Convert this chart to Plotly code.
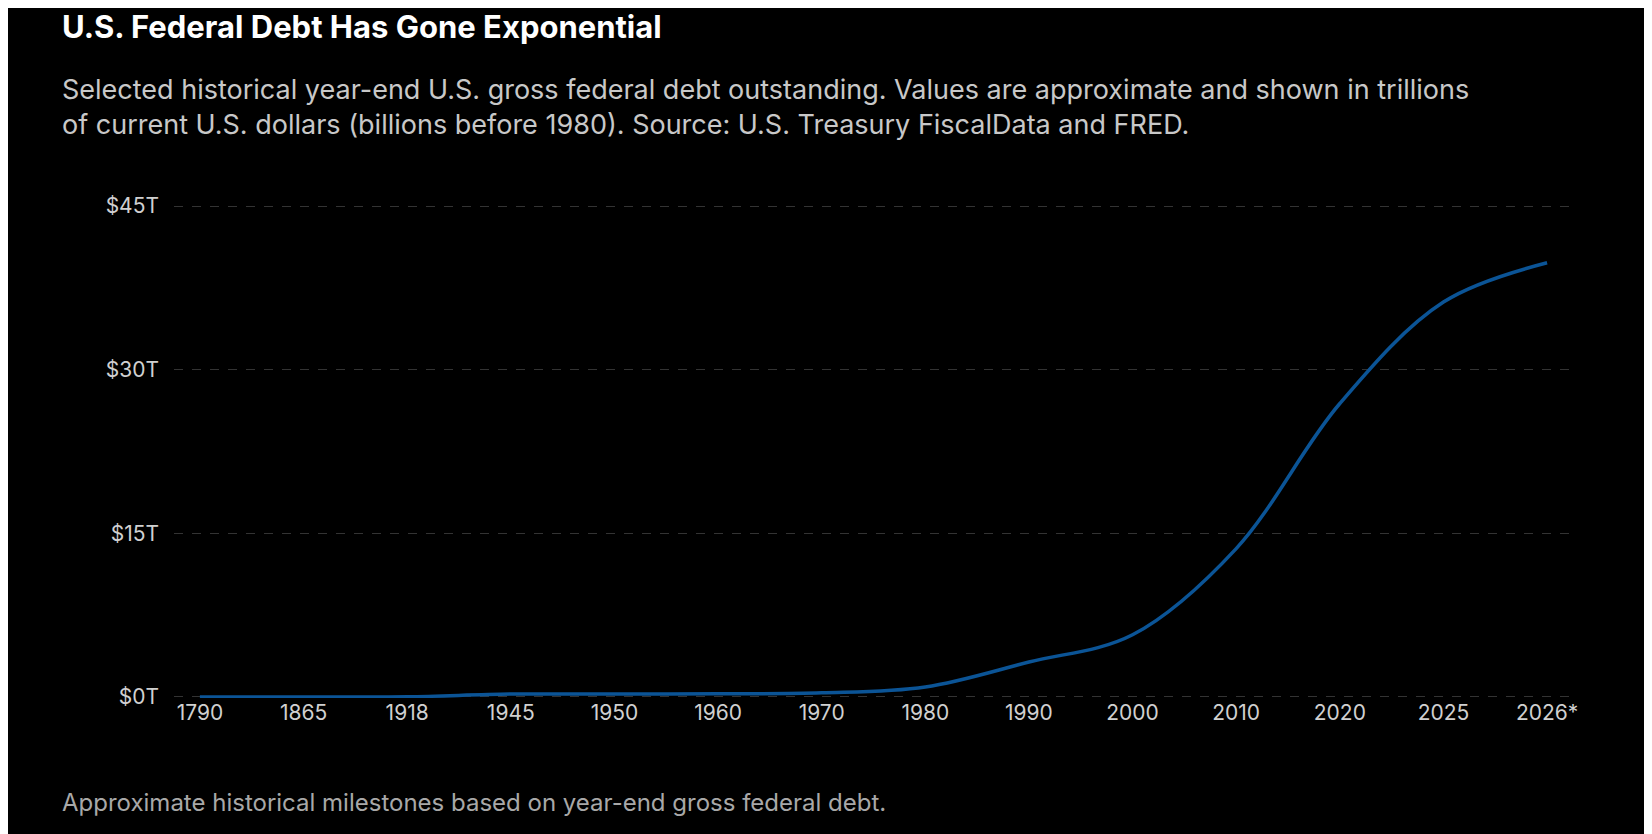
import plotly.graph_objects as go

years = ["1790", "1865", "1918", "1945", "1950", "1960", "1970", "1980",
         "1990", "2000", "2010", "2020", "2025", "2026*"]
debt_trillions = [0.00007, 0.0027, 0.012, 0.26, 0.257, 0.29, 0.37, 0.91,
                  3.2, 5.7, 13.6, 26.9, 36.2, 39.8]
tick_values = [0, 15, 30, 45]
tick_labels = ["$0T", "$15T", "$30T", "$45T"]

fig = go.Figure(go.Scatter(
    x=years, y=debt_trillions, mode="lines",
    line=dict(color="#0b5496", width=3.5, shape="spline", smoothing=1.0),
    hoverinfo="x+y",
))

font = "Inter, 'Open Sans', sans-serif"
fig.update_layout(
    width=1652, height=834,
    paper_bgcolor="#000000", plot_bgcolor="#000000",
    margin=dict(l=166, r=87, t=197, b=144),
    showlegend=False,
    font=dict(family=font, color="#d0d0d0", size=21),
    xaxis=dict(type="category", range=[-0.25, 13.25], showgrid=False,
               zeroline=False, showline=False, ticks="",
               tickfont=dict(size=21, color="#d0d0d0")),
    yaxis=dict(range=[-0.1, 45.1], tickvals=tick_values, ticktext=tick_labels,
               showgrid=True, gridcolor="#333333", griddash="dash",
               gridwidth=1, zeroline=False, showline=False,
               ticklabelstandoff=14,
               tickfont=dict(size=21, color="#d0d0d0")),
    annotations=[
        dict(text="<b>U.S. Federal Debt Has Gone Exponential</b>",
             xref="paper", yref="paper", x=-0.0818, y=1.362,
             xanchor="left", yanchor="middle", showarrow=False,
             font=dict(size=31, color="#ffffff", family=font)),
        dict(text="Selected historical year-end U.S. gross federal debt outstanding. "
                  "Values are approximate and shown in trillions<br>"
                  "of current U.S. dollars (billions before 1980). "
                  "Source: U.S. Treasury FiscalData and FRED.",
             xref="paper", yref="paper", x=-0.0818, y=1.199,
             xanchor="left", yanchor="middle", align="left", showarrow=False,
             font=dict(size=27, color="#c8c8c8", family=font)),
        dict(text="Approximate historical milestones based on year-end gross federal debt.",
             xref="paper", yref="paper", x=-0.0818, y=-0.2126,
             xanchor="left", yanchor="middle", showarrow=False,
             font=dict(size=24, color="#a8a8a8", family=font)),
    ],
)

fig.write_html("out.html")
